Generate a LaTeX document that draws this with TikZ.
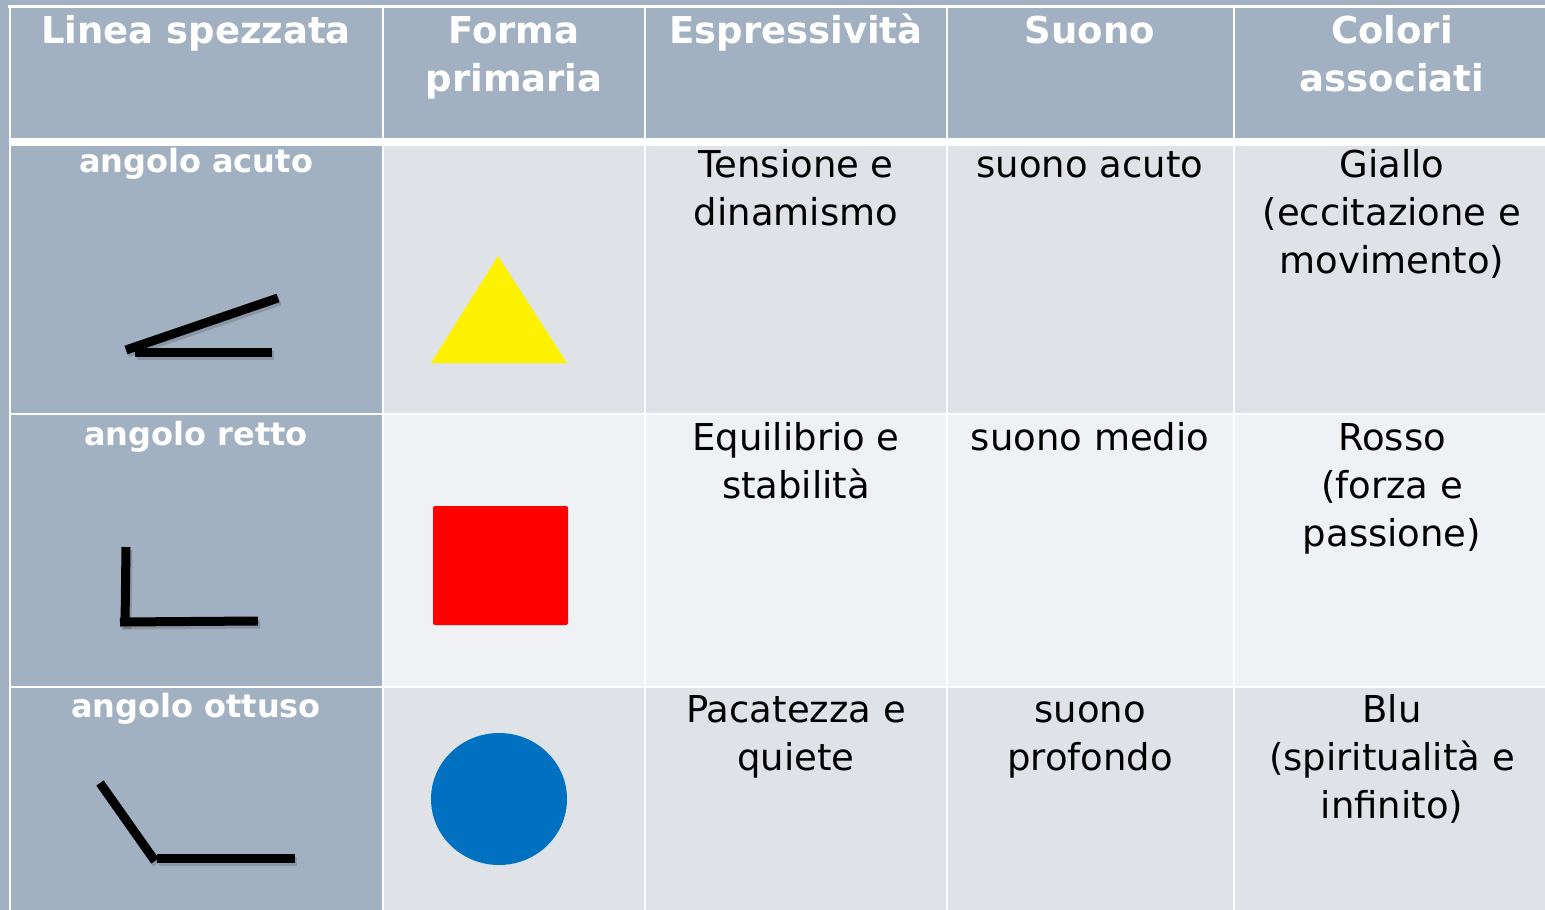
\documentclass[tikz,border=0pt]{standalone}
\usepackage{fontspec}
\setmainfont{DejaVu Sans}
\definecolor{bgblue}{HTML}{A2B1C1}
\definecolor{rowa}{HTML}{DFE3E8}
\definecolor{rowb}{HTML}{EFF1F4}
\definecolor{circblue}{HTML}{0070C0}
\newcommand\mlines[1]{\begin{tabular}[t]{@{}c@{}}#1\end{tabular}}
\tikzset{
  cellA/.style={fill=rowa,draw=none},
  cellB/.style={fill=rowb,draw=none},
  cellH/.style={fill=bgblue,draw=none},
  sep/.style={white,line width=2.5pt},
  headtxt/.style={anchor=base,inner sep=0pt,white,font=\fontsize{37}{48}\selectfont\bfseries},
  labtxt/.style={anchor=base,white,font=\fontsize{32}{38}\selectfont\bfseries},
  bodytxt/.style={anchor=base,inner sep=0pt,black,font=\fontsize{37}{48}\selectfont},
  stick/.style={line width=9pt,black,line cap=butt},
  stickshadow/.style={line width=9pt,black,opacity=0.15,line cap=butt},
}
\begin{document}
\begin{tikzpicture}[x=1pt,y=-1pt]
\useasboundingbox (0,0) rectangle (1545,910);
\fill[bgblue] (0,0) rectangle (1545,910);
% cells
\fill[cellH] (10,6) rectangle (1545,138);
\fill[cellH] (10,146) rectangle (383,910);
\fill[cellA] (383,146) rectangle (1545,414);
\fill[cellB] (383,414) rectangle (1545,687);
\fill[cellA] (383,687) rectangle (1545,910);
% separators
\draw[white,line width=3pt] (8,6) -- (1545,6);
\fill[white] (10,138) rectangle (1545,146);
\draw[sep] (10,414) -- (1545,414);
\draw[sep] (10,687) -- (1545,687);
\draw[sep] (10,5) -- (10,910);
\foreach \x in {383,645,947,1234} \draw[sep] (\x,6) -- (\x,910);
% header
\node[headtxt] (h1) at (196,43) {\mlines{Linea spezzata}};
\node[headtxt] (h2) at (514,43) {\mlines{Forma\\primaria}};
\node[headtxt] (h3) at (796,43) {\mlines{Espressività}};
\node[headtxt] (h4) at (1090,43) {\mlines{Suono}};
\node[headtxt] (h5) at (1392,43) {\mlines{Colori\\associati}};
% row labels
\node[labtxt] (l1) at (196,172) {angolo acuto};
\node[labtxt] (l2) at (196,445) {angolo retto};
\node[labtxt] (l3) at (196,717) {angolo ottuso};
% body
\node[bodytxt] (e1) at (796,177) {\mlines{Tensione e\\dinamismo}};
\node[bodytxt] (s1) at (1090,177) {\mlines{suono acuto}};
\node[bodytxt] (c1) at (1392,177) {\mlines{Giallo\\(eccitazione e\\movimento)}};
\node[bodytxt] (e2) at (796,450) {\mlines{Equilibrio e\\stabilità}};
\node[bodytxt] (s2) at (1090,450) {\mlines{suono medio}};
\node[bodytxt] (c2) at (1392,450) {\mlines{Rosso\\(forza e\\passione)}};
\node[bodytxt] (e3) at (796,722) {\mlines{Pacatezza e\\quiete}};
\node[bodytxt] (s3) at (1090,722) {\mlines{suono\\profondo}};
\node[bodytxt] (c3) at (1392,722) {\mlines{Blu\\(spiritualità e\\infinito)}};
% shapes
\fill[yellow] (498,256) -- (567,363) -- (431,363) -- cycle;
\fill[red,rounded corners=2pt] (433,506) rectangle (568,625);
\fill[circblue] (499,799) ellipse [x radius=68, y radius=66];
% stick shadows
\begin{scope}[shift={(2,3)}]
\draw[stickshadow] (126,350) -- (278,298);
\draw[stickshadow] (135,352) -- (272,352);
\draw[stickshadow] (126,547) -- (125,626);
\draw[stickshadow] (120,622) -- (258,621);
\draw[stickshadow] (100,783) -- (155,861);
\draw[stickshadow] (157,858) -- (295,858);
\end{scope}
% sticks
\draw[stick] (126,350) -- (278,298);
\draw[stick] (135,352) -- (272,352);
\draw[stick] (126,547) -- (125,626);
\draw[stick] (120,622) -- (258,621);
\draw[stick] (100,783) -- (155,861);
\draw[stick] (157,858) -- (295,858);
\end{tikzpicture}
\end{document}
